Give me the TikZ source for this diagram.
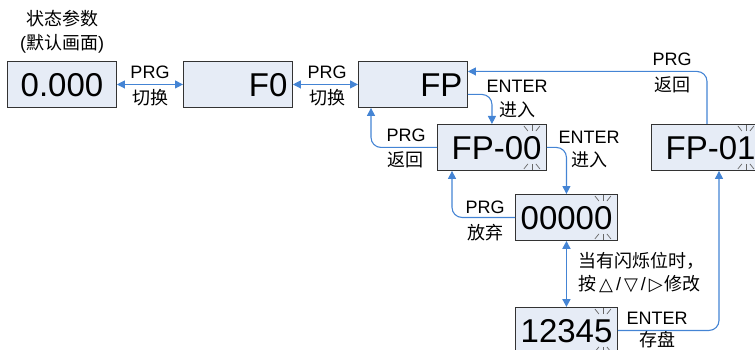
\documentclass[tikz,border=0pt]{standalone}
\usepackage{fontspec}
\setmainfont{Liberation Sans}
\newfontfamily\cjk{Noto Sans CJK SC}
\newfontfamily\simbolos{DejaVu Sans}
\usepackage{xcolor}
\usepackage{tikz}
\usetikzlibrary{arrows.meta,calc,positioning}
\definecolor{azul}{RGB}{68,132,212}
\definecolor{fondo}{RGB}{230,236,246}
\tikzset{
  pantalla/.style={draw=black!80,fill=fondo,line width=0.9pt,minimum height=46pt,
    inner xsep=5pt,inner ysep=0pt,align=right,font=\fontsize{33}{36}\selectfont,
    text height=24pt,text depth=0pt},
  flecha/.style={-{Triangle[length=8pt,width=8pt]},azul,line width=1.1pt,rounded corners=10pt},
  dflecha/.style={{Triangle[length=8pt,width=8pt]}-{Triangle[length=8pt,width=8pt]},azul,line width=1.1pt},
  etiq/.style={inner sep=0pt,font=\fontsize{18}{20}\selectfont},
  rayo/.style={black!60,line width=0.7pt}
}
\newcommand{\destello}[1]{%
  \draw[rayo] ($(#1.north east)+(-15,1)$) -- ++(0,6);
  \draw[rayo] ($(#1.north east)+(-23,2)$) -- ++(4,5);
  \draw[rayo] ($(#1.north east)+(-7,2)$) -- ++(-4,5);
  \draw[rayo] ($(#1.south east)+(-15,-1)$) -- ++(0,-6);
  \draw[rayo] ($(#1.south east)+(-23,-2)$) -- ++(4,-5);
  \draw[rayo] ($(#1.south east)+(-7,-2)$) -- ++(-4,-5);
}

\begin{document}
\begin{tikzpicture}[x=1pt,y=-1pt]
\useasboundingbox (0,0) rectangle (755,350);
\clip (0,0) rectangle (755,350);
% pantallas
\node[pantalla,anchor=north west,text width=99pt,align=center] (cero) at (7,61) {0.000};
\node[pantalla,anchor=north west,text width=99pt] (fzero) at (183,61) {F0};
\node[pantalla,anchor=north west,text width=99pt] (fp) at (358,61) {FP};
\node[pantalla,anchor=north west,text width=99pt] (fp00) at (437,124) {FP-00};
\node[pantalla,anchor=north west,text width=99pt] (fp01) at (651,124) {FP-01};
\node[pantalla,anchor=north west,text width=92pt] (ceros) at (515,194) {00000};
\node[pantalla,anchor=north west,text width=92pt] (num) at (515,307) {12345};
\destello{fp00} \destello{fp01} \destello{ceros} \destello{num}
% textos
\node[etiq] (estado) at (62,19) {\cjk 状态参数};
\node[etiq] (defecto) at (62,44) {(\cjk 默认画面\rmfamily)};
\node[etiq] (prgA) at (150,72) {PRG};
\node[etiq] (camA) at (150,98) {\cjk 切换};
\node[etiq] (prgB) at (327,72) {PRG};
\node[etiq] (camB) at (327,98) {\cjk 切换};
\node[etiq] (entA) at (517,86) {ENTER};
\node[etiq] (entrarA) at (517,110) {\cjk 进入};
\node[etiq] (prgC) at (406,135) {PRG};
\node[etiq] (volA) at (405,160) {\cjk 返回};
\node[etiq] (entB) at (589,137) {ENTER};
\node[etiq] (entrarB) at (589,160) {\cjk 进入};
\node[etiq] (prgD) at (672,59) {PRG};
\node[etiq] (volB) at (672,85) {\cjk 返回};
\node[etiq] (prgE) at (485,207) {PRG};
\node[etiq] (aband) at (485,233) {\cjk 放弃};
\node[etiq,anchor=west,align=left] (nota) at (578,272)
  {{\cjk 当有闪烁位时，}\\[3pt]{\cjk 按}\hspace{3pt}{\simbolos △}\hspace{3pt}/\hspace{3pt}{\simbolos ▽}\hspace{3pt}/\hspace{3pt}{\simbolos ▷}\hspace{2pt}{\cjk 修改}};
\node[etiq] (entC) at (657,318) {ENTER};
\node[etiq] (guardar) at (657,340) {\cjk 存盘};
% flechas
\draw[dflecha] (cero.east) -- (fzero.west);
\draw[dflecha] (fzero.east) -- (fp.west);
\draw[flecha] ($(fp.east)+(0,10)$) -| (fp00.north);
\draw[flecha] (fp00.west) -| ($(fp.south west)+(13,0)$);
\draw[flecha] (fp00.east) -| (ceros.north);
\draw[flecha] (ceros.west) -| ($(fp00.south west)+(15,0)$);
\draw[dflecha,line width=1.8pt] (ceros.south) -- (num.north);
\draw[flecha] (num.east) -| ($(fp01.south west)+(68,0)$);
\draw[flecha] ($(fp01.north west)+(56,0)$) |- ($(fp.east)+(0,-13)$);
\end{tikzpicture}
\end{document}
